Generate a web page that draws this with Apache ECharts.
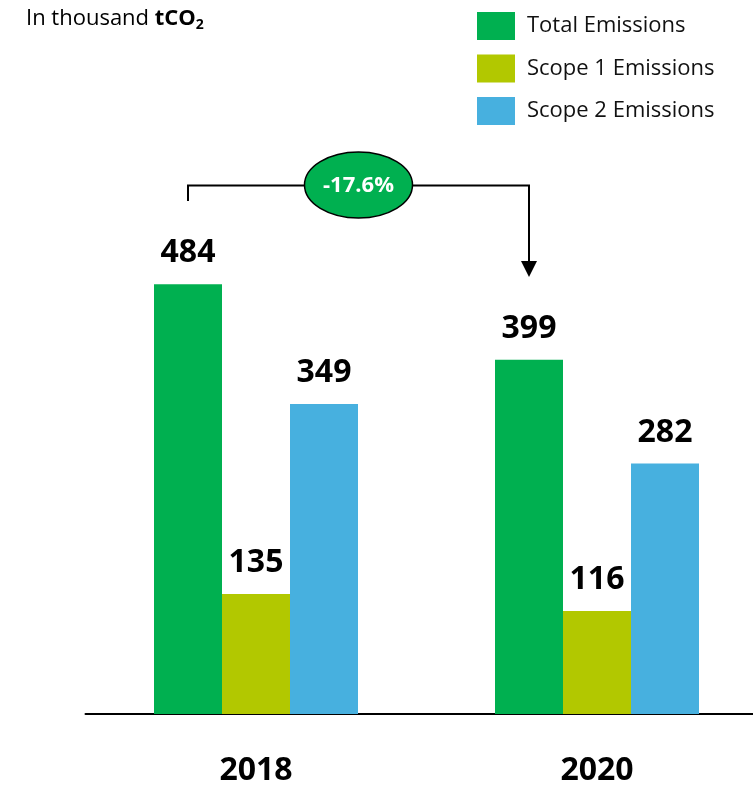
<!DOCTYPE html>
<html>
<head>
<meta charset="utf-8">
<script src="https://cdn.jsdelivr.net/npm/echarts@6/dist/echarts.min.js"></script>
<style>
html,body{margin:0;padding:0;background:#fff;overflow:hidden;width:753px;height:787px;}
#chart{width:770px;height:787px;}
</style>
</head>
<body>
<div id="chart"></div>
<script>
const categories = ['2018', '2020'];
const seriesNames = ['Total Emissions', 'Scope 1 Emissions', 'Scope 2 Emissions'];
const totalEmissions = [484, 399];
const scope1Emissions = [135, 116];
const scope2Emissions = [349, 282];
const changeLabel = '-17.6%';
const unitPrefix = 'In thousand ';
const unitBold = 'tCO';
const unitSub = '2';

const colors = ['#00B050', '#B2C800', '#47B0DF'];
const FONT = 'Open Sans';

const chart = echarts.init(document.getElementById('chart'), null, {renderer: 'canvas'});

function barSeries(name, data, color) {
  return {
    name: name,
    type: 'bar',
    data: data,
    barWidth: 68,
    barGap: '0%',
    itemStyle: {color: color},
    label: {
      show: true,
      position: 'top',
      distance: 15,
      fontFamily: FONT,
      fontWeight: 'bold',
      fontSize: 32,
      color: '#000'
    }
  };
}

chart.setOption({
  animation: false,
  textStyle: {fontFamily: FONT},
  grid: {left: 85.5, width: 682, top: 270, bottom: 66, containLabel: false},
  legend: {
    orient: 'vertical',
    left: 477,
    top: 12,
    padding: 0,
    itemWidth: 38,
    itemHeight: 28,
    itemGap: 14.5,
    icon: 'rect',
    selectedMode: false,
    data: seriesNames,
    textStyle: {fontFamily: FONT, fontSize: 22, color: '#111', padding: [0, 0, 0, 7]}
  },
  xAxis: {
    type: 'category',
    data: categories,
    axisTick: {show: false},
    axisLine: {lineStyle: {color: '#000', width: 2}},
    axisLabel: {fontFamily: FONT, fontWeight: 'bold', fontSize: 32, color: '#000', margin: 41}
  },
  yAxis: {
    type: 'value',
    min: 0,
    max: 500,
    show: false,
    splitLine: {show: false}
  },
  series: [
    barSeries(seriesNames[0], totalEmissions, colors[0]),
    barSeries(seriesNames[1], scope1Emissions, colors[1]),
    barSeries(seriesNames[2], scope2Emissions, colors[2])
  ]
});

// annotation positions derived from the axis
const c0 = chart.convertToPixel({xAxisIndex: 0}, categories[0]);
const c1 = chart.convertToPixel({xAxisIndex: 0}, categories[1]);
const x1 = c0 - 68;
const x2 = c1 - 68;
const yLine = 185.5;
const cx = (x1 + x2) / 2;
const cy = 185;
const rx = 54, ry = 33;

chart.setOption({
  graphic: [
    {
      type: 'text',
      x: 26,
      y: 19,
      style: {
        text: '{r|' + unitPrefix + '}{b|' + unitBold + '}{s|' + unitSub + '}',
        verticalAlign: 'middle',
        rich: {
          r: {fontFamily: FONT, fontSize: 22, color: '#111'},
          b: {fontFamily: FONT, fontSize: 22, fontWeight: 'bold', color: '#111'},
          s: {fontFamily: FONT, fontSize: 14, fontWeight: 'bold', color: '#111', padding: [12, 0, 0, 0]}
        }
      }
    },
    {
      type: 'polyline',
      shape: {points: [[x1, 201], [x1, yLine], [cx - rx, yLine]]},
      style: {stroke: '#000', lineWidth: 2, fill: null}
    },
    {
      type: 'polyline',
      shape: {points: [[cx + rx, yLine], [x2, yLine], [x2, 263]]},
      style: {stroke: '#000', lineWidth: 2, fill: null}
    },
    {
      type: 'polygon',
      shape: {points: [[x2 - 8, 261], [x2 + 8, 261], [x2, 277]]},
      style: {fill: '#000'}
    },
    {
      type: 'ellipse',
      shape: {cx: cx, cy: cy, rx: rx, ry: ry},
      style: {fill: '#00B050', stroke: '#000', lineWidth: 1.5},
      z: 10
    },
    {
      type: 'text',
      x: cx,
      y: cy + 1,
      z: 11,
      style: {
        text: changeLabel,
        fontFamily: FONT,
        fontSize: 22,
        fontWeight: 'bold',
        fill: '#fff',
        align: 'center',
        verticalAlign: 'middle'
      }
    }
  ]
});
</script>
</body>
</html>
